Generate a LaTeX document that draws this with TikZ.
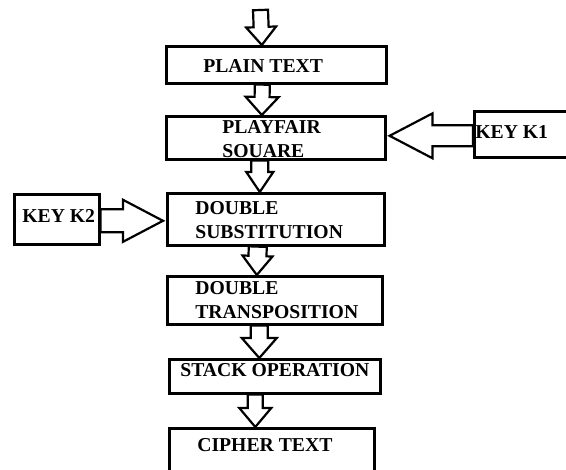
\documentclass[tikz,border=0pt]{standalone}
\usepackage{fontspec}
\setmainfont{Liberation Serif}
\usetikzlibrary{calc}

% hollow block arrow: start, tip, shaft half width, head half width, head length
\newcommand{\blockarrow}[5]{%
    \coordinate (ba-s) at (#1);
    \coordinate (ba-t) at (#2);
    \coordinate (ba-h) at ($(ba-t)!#5!(ba-s)$);
    \draw[blockline]
        ($(ba-s)!#3!90:(ba-t)$) -- ($(ba-h)!#3!90:(ba-t)$) --
        ($(ba-h)!#4!90:(ba-t)$) -- (ba-t) --
        ($(ba-h)!#4!-90:(ba-t)$) -- ($(ba-h)!#3!-90:(ba-t)$) --
        ($(ba-s)!#3!-90:(ba-t)$) -- cycle;}

\begin{document}
\begin{tikzpicture}[x=0.02cm, y=-0.02cm,
            stepbox/.style={
                draw,
                line width=1.5pt,
                anchor=north west,
                inner sep=0pt
            },
            label/.style={
                anchor=base west,
                inner sep=0pt,
                align=left,
                font=\fontsize{11.2}{13.4}\selectfont\bfseries
            },
            blockline/.style={
                draw,
                line width=1.25pt,
                line join=miter
            }
        ]

        \useasboundingbox (0,0) rectangle (566,470);

        % Plain Text (top)
        \node[stepbox, minimum width=4.40cm, minimum height=0.74cm] (plain) at (165,45) {};
        \node[label] at ($(plain.north west)+(38,27)$) {PLAIN TEXT};

        % Playfair Square (base is the last line)
        \node[stepbox, minimum width=4.38cm, minimum height=0.86cm] (playfair) at (165,115) {};
        \node[label] at ($(playfair.north west)+(57,42)$) {PLAYFAIR\\SOUARE};

        % Key K1 (right, cut by the edge)
        \node[stepbox, minimum width=2.00cm, minimum height=0.92cm] (keyone) at (473,110) {};
        \node[label] at ($(keyone.north west)+(2,28)$) {KEY K1};

        % Double Substitution
        \node[stepbox, minimum width=4.34cm, minimum height=1.04cm] (dsub) at (166,192) {};
        \node[label] at ($(dsub.north west)+(29,46)$) {DOUBLE\\SUBSTITUTION};

        % Key K2 (left)
        \node[stepbox, minimum width=1.70cm, minimum height=1.00cm] (keytwo) at (13,193) {};
        \node[label] at ($(keytwo.north west)+(9,29)$) {KEY K2};

        % Double Transposition
        \node[stepbox, minimum width=4.30cm, minimum height=0.96cm] (dtrans) at (166,275) {};
        \node[label] at ($(dtrans.north west)+(29,43)$) {DOUBLE\\TRANSPOSITION};

        % Stack Operation
        \node[stepbox, minimum width=4.22cm, minimum height=0.68cm] (stack) at (168,358) {};
        \node[label] at ($(stack.north west)+(12,19)$) {STACK OPERATION};

        % Cipher Text (bottom, cut by the edge)
        \node[stepbox, minimum width=4.10cm, minimum height=1.00cm] (cipher) at (168,427) {};
        \node[label] at ($(cipher.north west)+(29,25)$) {CIPHER TEXT};

        % Block arrows down the chain
        \coordinate (input) at (260.5,10);
        \blockarrow{input}{[xshift=-0.29cm]plain.north}{0.15cm}{0.30cm}{0.36cm}
        \blockarrow{[xshift=-0.28cm]plain.south}{[xshift=-0.28cm]playfair.north}{0.15cm}{0.33cm}{0.36cm}
        \blockarrow{[xshift=-0.32cm]playfair.south}{[xshift=-0.32cm]dsub.north}{0.17cm}{0.27cm}{0.40cm}
        \blockarrow{[xshift=-0.36cm]dsub.south}{[xshift=-0.36cm]dtrans.north}{0.18cm}{0.30cm}{0.38cm}
        \blockarrow{[xshift=-0.31cm]dtrans.south}{[xshift=-0.31cm]stack.north}{0.17cm}{0.35cm}{0.40cm}
        \blockarrow{[xshift=-0.39cm]stack.south}{[xshift=-0.33cm]cipher.north}{0.15cm}{0.32cm}{0.38cm}

        % Keys into the chain
        \blockarrow{[yshift=-0.03cm]keyone.west}{[xshift=0.06cm, yshift=0.04cm]playfair.east}{0.21cm}{0.45cm}{0.86cm}
        \blockarrow{[yshift=-0.03cm]keytwo.east}{[xshift=-0.06cm, yshift=-0.03cm]dsub.west}{0.23cm}{0.42cm}{0.80cm}
\end{tikzpicture}
\end{document}
